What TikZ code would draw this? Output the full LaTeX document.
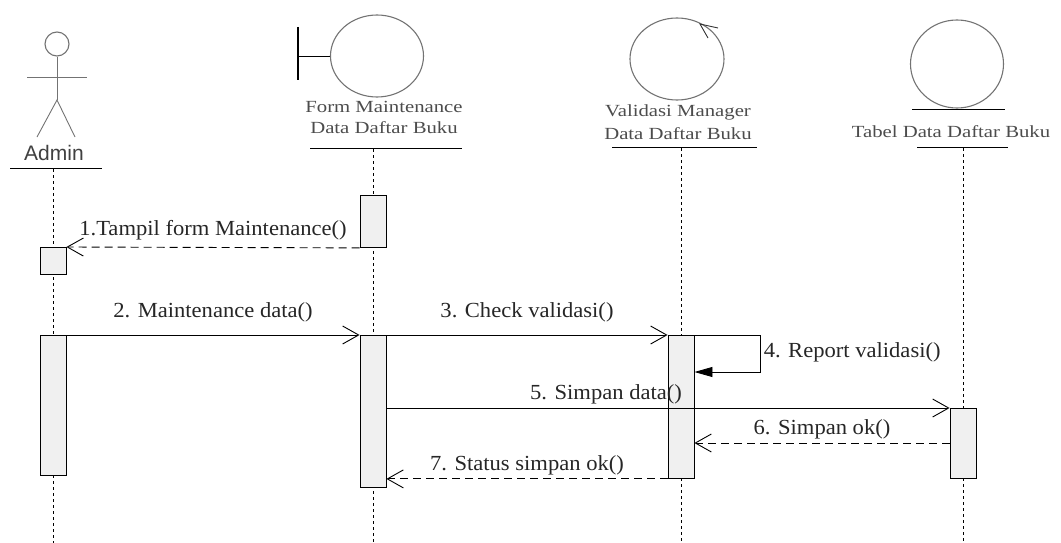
\documentclass[tikz,border=0pt]{standalone}
\usepackage{fontspec}
\setmainfont{Liberation Serif}
\newfontfamily\lblfamily{Liberation Serif}[FakeStretch=1.05]
\newfontfamily\headfamily{Liberation Serif}[FakeStretch=1.22]
\newfontfamily\actorfamily{Liberation Sans}
\usetikzlibrary{shapes.geometric,arrows.meta}

\begin{document}
\begin{tikzpicture}[x=1pt,y=-1pt,line width=0.9pt]
\tikzstyle{obj} = [ellipse, draw=black!55, line width=1.1pt, minimum width=93, minimum height=82]
\tikzstyle{head} = [align=center, text=black!70, font=\headfamily\fontsize{17}{21}\selectfont]
\tikzstyle{lifeline} = [draw=black, dash pattern=on 3pt off 3pt]
\tikzstyle{act} = [draw=black, fill=gray!12, minimum width=26, inner sep=0, anchor=north]
\tikzstyle{msg} = [draw=black, -{Straight Barb[length=16pt,width=18pt]}]
\tikzstyle{ret} = [msg, dash pattern=on 8pt off 5pt]
\tikzstyle{lbl} = [above, text=black!85, font=\lblfamily\fontsize{21.5}{24}\selectfont]
\useasboundingbox (0,0) rectangle (1061,543);

% actor
\node[circle, draw=black!55, line width=1.1pt, minimum size=24] (adminhead) at (57,44) {};
\draw[black!55] (adminhead.south) -- (57,100);
\draw[black!55] (27,77) -- (87,77);
\draw[black!55] (37,137) -- (57,100) -- (75,137);
\node[text=black!75, font=\actorfamily\fontsize{21}{24}\selectfont] (adminlbl) at (54,153) {Admin};
\draw (10,168) -- (102,168);

% boundary
\node[obj] (form) at (377,56) {};
\draw[line width=1.4pt] (298,27) -- (298,80);
\draw (298,56) -- (form.west);
\node[head] (formlbl) at (384,117) {Form Maintenance\\Data Daftar Buku};
\draw (310,148) -- (462,148);

% control
\node[obj, minimum width=94] (valid) at (677,59) {};
\draw[black!80] (718,28) -- (700,24) -- (708,38);
\node[head] (validlbl) at (678,122) {Validasi Manager\\[2pt]Data Daftar Buku};
\draw (612,147) -- (757,147);

% entity
\node[obj, minimum height=88] (tabel) at (957,64) {};
\draw (912,109) -- (1005,109);
\node[head] (tabellbl) at (951,132) {Tabel Data Daftar Buku};
\draw (917,147) -- (1008,147);

% lifelines
\coordinate (adminTop) at (53,169);
\coordinate (adminBot) at (53,543);
\coordinate (formTop) at (373,149);
\coordinate (formBot) at (373,543);
\coordinate (validTop) at (681,148);
\coordinate (validBot) at (681,543);
\coordinate (tabelTop) at (963,148);
\coordinate (tabelBot) at (963,543);
\draw[lifeline] (adminTop) -- (adminBot);
\draw[lifeline] (formTop) -- (formBot);
\draw[lifeline] (validTop) -- (validBot);
\draw[lifeline] (tabelTop) -- (tabelBot);

% activations
\node[act, minimum height=52] (form1) at (373,195) {};
\node[act, minimum height=27] (admin1) at (53,247) {};
\node[act, minimum height=140] (admin2) at (53,335) {};
\node[act, minimum height=152] (form2) at (373,335) {};
\node[act, minimum height=143] (valid1) at (681,335) {};
\node[act, minimum height=70] (tabel1) at (963,408) {};

% messages
\draw[ret] (form1.south west) to node[lbl, yshift=4]{1.Tampil form Maintenance()} (admin1.north east);
\draw[msg] (admin2.north east) to node[lbl, yshift=9]{2. Maintenance data()} (form2.north west);
\draw[msg] (form2.north east) to node[lbl, yshift=9]{3. Check validasi()} (valid1.north west);
\coordinate (selfloop) at (760,372);
\draw[-{Triangle[length=18pt,width=10pt]}] (valid1.north east) -- (valid1.north east -| selfloop)
  -- node[lbl, anchor=west, yshift=1]{4. Report validasi()} (selfloop)
  -- (valid1.east |- selfloop);
\draw[msg] (form2.east |- tabel1.north) to node[lbl, pos=0.39]{5. Simpan data()} (tabel1.north west);
\coordinate (okrow) at (820,443);
\draw[ret] (tabel1.west |- okrow) to node[lbl]{6. Simpan ok()} (valid1.east |- okrow);
\draw[ret] (valid1.south west) to node[lbl]{7. Status simpan ok()} (form2.east |- valid1.south);
\end{tikzpicture}
\end{document}
